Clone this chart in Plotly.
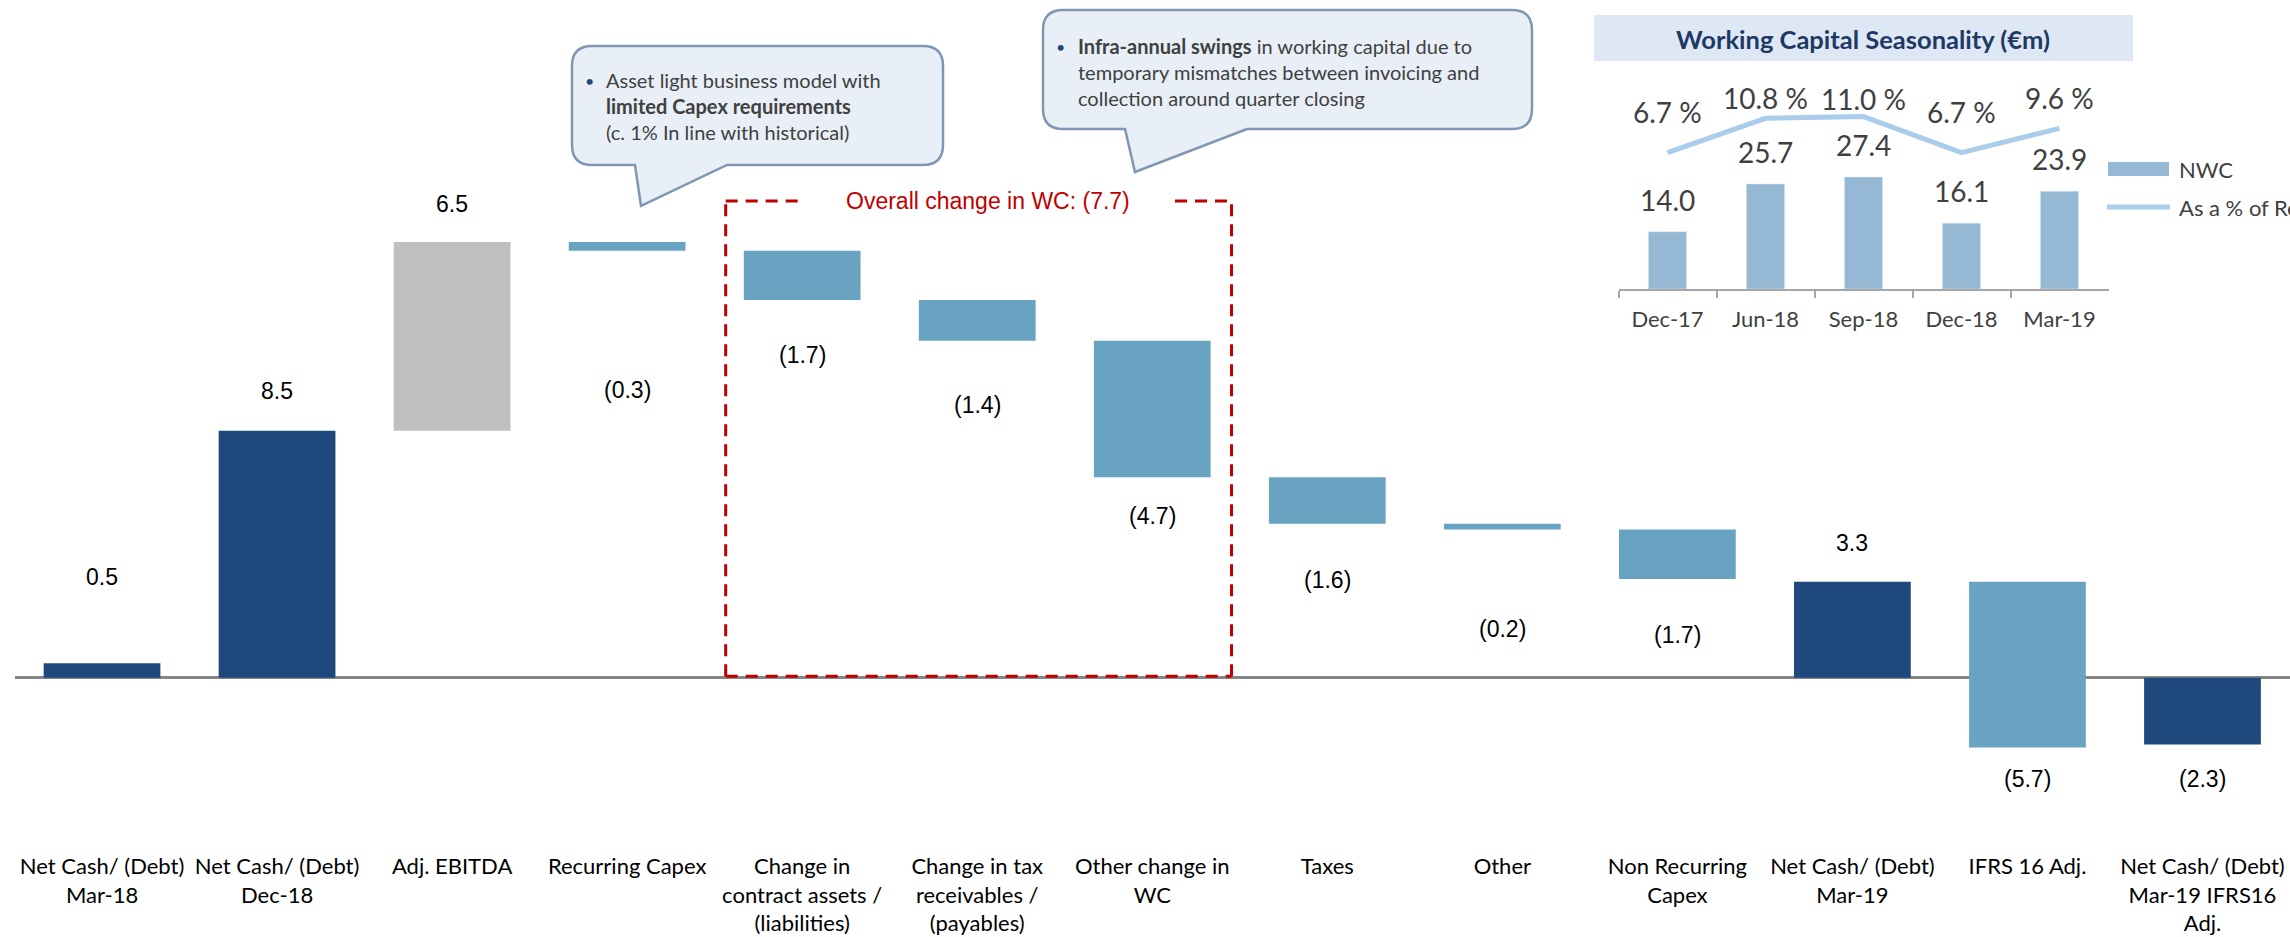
import plotly.graph_objects as go

# ---------------- data ----------------
categories = [
    "Net Cash/ (Debt)<br>Mar-18", "Net Cash/ (Debt)<br>Dec-18", "Adj. EBITDA", "Recurring Capex",
    "Change in<br>contract assets /<br>(liabilities)", "Change in tax<br>receivables /<br>(payables)",
    "Other change in<br>WC", "Taxes", "Other", "Non Recurring<br>Capex",
    "Net Cash/ (Debt)<br>Mar-19", "IFRS 16 Adj.", "Net Cash/ (Debt)<br>Mar-19 IFRS16<br>Adj.",
]
values = [0.5, 8.5, 6.5, -0.3, -1.7, -1.4, -4.7, -1.6, -0.2, -1.7, 3.3, -5.7, -2.3]
measures = ["absolute", "absolute", "relative", "relative", "relative", "relative", "relative",
            "relative", "relative", "relative", "absolute", "relative", "absolute"]
value_labels = ["0.5", "8.5", "6.5", "(0.3)", "(1.7)", "(1.4)", "(4.7)", "(1.6)", "(0.2)",
                "(1.7)", "3.3", "(5.7)", "(2.3)"]
label_y = [3.47, 9.87, 16.29, 9.90, 11.11, 9.40, 5.58, 3.36, 1.66, 1.47, 4.64, -3.47, -3.47]

wc_total_label = "Overall change in WC: (7.7)"

inset_categories = ["Dec-17", "Jun-18", "Sep-18", "Dec-18", "Mar-19"]
nwc_values = [14.0, 25.7, 27.4, 16.1, 23.9]
pct_values = [6.7, 10.8, 11.0, 6.7, 9.6]
pct_labels = ["6.7 %", "10.8 %", "11.0 %", "6.7 %", "9.6 %"]
pct_label_shift = [41, 20, 18, 41, 30]

# ---------------- layout helpers ----------------
W, H = 2290, 937
def X(px):
    return px / W
def Y(py):
    return 1 - py / H

NAVY = "#1F497D"
STEEL = "#68A3C1"
GREY = "#BFBFBF"
RED = "#C00000"
TXT = "#404040"
CAL = "Lato, 'Open Sans', sans-serif"
ARIAL = "'Liberation Sans', Arial, sans-serif"

# main plot geometry (pixels)
main_left, main_right = 14.5, 2290
main_top, main_bottom = 0, 851
zero_px = 677.7
ppu = 29.05
y_top = (zero_px - main_top) / ppu
y_bot = -(main_bottom - zero_px) / ppu

fig = go.Figure()

fig.add_trace(go.Waterfall(
    x=categories, y=values, measure=measures,
    increasing=dict(marker=dict(color=GREY)),
    decreasing=dict(marker=dict(color=STEEL)),
    totals=dict(marker=dict(color=NAVY)),
    connector=dict(visible=False),
    textinfo="none", hoverinfo="skip",
    xaxis="x", yaxis="y", showlegend=False,
))

for c, t, yy in zip(categories, value_labels, label_y):
    fig.add_annotation(x=c, y=yy, xref="x", yref="y", text=t, showarrow=False,
                       xanchor="center", yanchor="middle",
                       font=dict(family=ARIAL, size=23, color="#000000"))

# ---------------- inset ----------------
ins_left, ins_right = 1618.5, 2108.5
ins_top, ins_zero = 20, 289
bar_ppu = 4.09
line_zero, line_ppu = 208.9, 8.39

fig.add_trace(go.Bar(
    x=inset_categories, y=nwc_values, xaxis="x2", yaxis="y2",
    marker=dict(color="#95B8D4"), width=0.39, showlegend=False, hoverinfo="skip",
))
fig.add_trace(go.Scatter(
    x=inset_categories, y=pct_values, xaxis="x2", yaxis="y3", mode="lines",
    line=dict(color="#A9CDEB", width=5), showlegend=False, hoverinfo="skip",
))
for c, v in zip(inset_categories, nwc_values):
    fig.add_annotation(x=c, y=v, xref="x2", yref="y2", text=f"{v:.1f}", showarrow=False,
                       xanchor="center", yanchor="middle",
                       yshift=32, font=dict(family=CAL, size=28, color=TXT))
for c, v, t, s in zip(inset_categories, pct_values, pct_labels, pct_label_shift):
    fig.add_annotation(x=c, y=v, xref="x2", yref="y3", text=t, showarrow=False,
                       xanchor="center", yanchor="middle",
                       yshift=s, font=dict(family=CAL, size=28, color=TXT))

shapes = []
# inset title box
shapes.append(dict(type="rect", xref="paper", yref="paper", x0=X(1594), x1=X(2133), y0=Y(15), y1=Y(61),
                   fillcolor="#DDE8F4", line=dict(width=0), layer="below"))
# inset legend swatches
shapes.append(dict(type="rect", xref="paper", yref="paper", x0=X(2108), x1=X(2169), y0=Y(162), y1=Y(176),
                   fillcolor="#95B8D4", line=dict(width=0)))
shapes.append(dict(type="line", xref="paper", yref="paper", x0=X(2107), x1=X(2170), y0=Y(207), y1=Y(207),
                   line=dict(color="#A9CDEB", width=5)))

# callouts
def callout(x0, y0, x1, y1, tl, tr, tip, r=20):
    pts = [
        ("M", (x0 + r, y0)), ("L", (x1 - r, y0)), ("Q", (x1, y0), (x1, y0 + r)),
        ("L", (x1, y1 - r)), ("Q", (x1, y1), (x1 - r, y1)), ("L", (tr, y1)), ("L", tip),
        ("L", (tl, y1)), ("L", (x0 + r, y1)), ("Q", (x0, y1), (x0, y1 - r)),
        ("L", (x0, y0 + r)), ("Q", (x0, y0), (x0 + r, y0)),
    ]
    s = ""
    for p in pts:
        s += p[0] + " " + " ".join(f"{X(a):.5f},{Y(b):.5f}" for a, b in p[1:]) + " "
    return s + "Z"

for cp in [callout(572, 46, 943, 165, 635, 727, (641, 206)),
           callout(1043, 10, 1532, 129, 1125, 1247, (1135, 172))]:
    shapes.append(dict(type="path", xref="paper", yref="paper", path=cp,
                       fillcolor="#E9EFF6", line=dict(color="#7F97B2", width=2.5)))

# red dashed WC box (main data coordinates)
bx0, bx1, by0, by1 = 3.563, 6.453, 0.05, 16.41
gap_l, gap_r = 4.016, 6.13
red_line = dict(color=RED, width=3, dash="12px,8px")
for (a, b, c, d) in [(bx0, by0, bx0, by1), (bx1, by0, bx1, by1), (bx0, by0, bx1, by0),
                     (bx0, by1, gap_l, by1), (gap_r, by1, bx1, by1)]:
    shapes.append(dict(type="line", xref="x", yref="y", x0=a, y0=b, x1=c, y1=d, line=red_line))

fig.add_annotation(x=5.06, y=by1, xref="x", yref="y", text=wc_total_label, showarrow=False,
                   xanchor="center", yanchor="middle",
                   font=dict(family=ARIAL, size=23, color=RED))

# text annotations in pixel positions
def ptext(px, py, text, size, color, xanchor="center", family=CAL):
    fig.add_annotation(x=X(px), y=Y(py), xref="paper", yref="paper", showarrow=False,
                       xanchor=xanchor, yanchor="middle", align="left", text=text,
                       font=dict(family=family, size=size, color=color))

ptext(1863, 39, "<b>Working Capital Seasonality (€m)</b>", 25.5, "#1F3864")
ptext(2177, 169, "NWC", 22, TXT, xanchor="left")
ptext(2177, 207, "As a % of Revenue", 22, TXT, xanchor="left")

ptext(589, 80, "•", 16, NAVY)
ptext(604, 106, "Asset light business model with<br><b>limited Capex requirements</b><br>(c. 1% In line with historical)",
      20, TXT, xanchor="left")
ptext(1060, 46.7, "•", 16, NAVY)
ptext(1076, 71.7, "<b>Infra-annual swings</b> in working capital due to<br>temporary mismatches between invoicing and<br>collection around quarter closing",
      20, TXT, xanchor="left")

fig.update_layout(
    width=W, height=H, margin=dict(l=0, r=0, t=0, b=0),
    paper_bgcolor="white", plot_bgcolor="rgba(0,0,0,0)",
    waterfallgap=0.333, bargap=0.6,
    shapes=shapes, showlegend=False,
    xaxis=dict(domain=[X(main_left), X(main_right)], range=[-0.5, 12.5], showgrid=False,
               zeroline=False, showline=False, ticks="", type="category",
               tickfont=dict(family=CAL, size=22, color="#000000"), anchor="y"),
    yaxis=dict(domain=[Y(main_bottom), Y(main_top)], range=[y_bot, y_top], showgrid=False,
               showticklabels=False, zeroline=True, zerolinecolor="#858585", zerolinewidth=3,
               anchor="x"),
    xaxis2=dict(domain=[X(ins_left), X(ins_right)], range=[-0.5, 4.5], type="category",
                anchor="y2", showgrid=False, zeroline=False, showline=True, linecolor="#A6A6A6",
                linewidth=1.5, ticks="outside", tickson="boundaries", ticklen=7, tickcolor="#A6A6A6",
                tickwidth=1.5, ticklabelstandoff=10,
                tickfont=dict(family=CAL, size=22, color=TXT)),
    yaxis2=dict(domain=[Y(ins_zero), Y(ins_top)], range=[0, (ins_zero - ins_top) / bar_ppu],
                visible=False, anchor="x2"),
    yaxis3=dict(domain=[Y(ins_zero), Y(ins_top)], overlaying="y2", anchor="x2",
                range=[-(ins_zero - line_zero) / line_ppu, (line_zero - ins_top) / line_ppu],
                visible=False),
)

fig.write_html("out.html")
